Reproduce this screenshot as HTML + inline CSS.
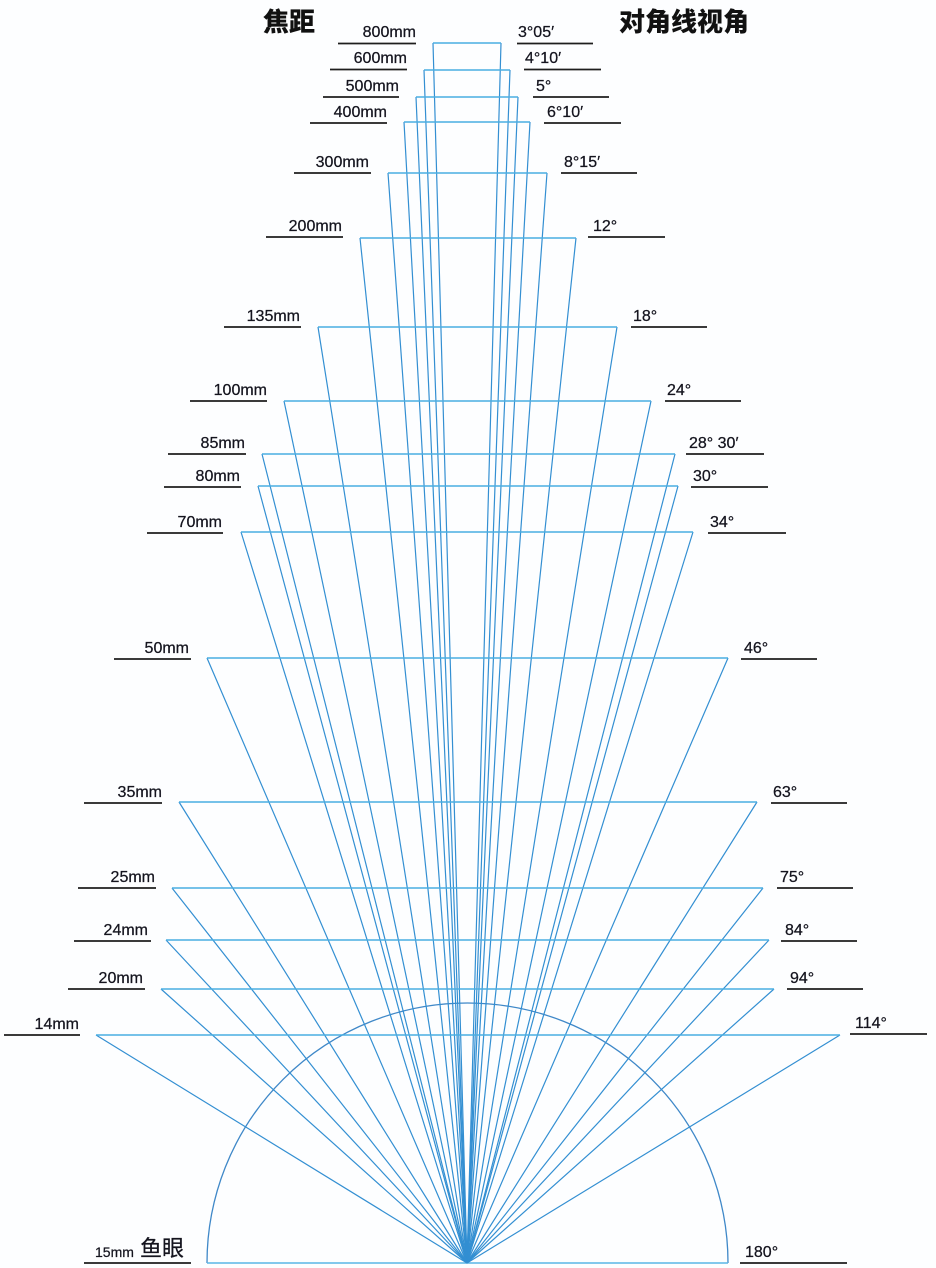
<!DOCTYPE html>
<html>
<head>
<meta charset="utf-8">
<style>
html,body{margin:0;padding:0;background:#ffffff;}
svg{display:block;}
.lbl{font-family:"Liberation Sans","Noto Sans CJK SC",sans-serif;font-size:16px;fill:#14141e;stroke:#14141e;stroke-width:0.25;}
.ttl{font-family:"Liberation Sans","Noto Sans CJK SC",sans-serif;font-size:26px;font-weight:900;fill:#111;}
.ul{stroke:#1e1e1e;stroke-width:1.7;}
.bar{stroke:#4aaee2;stroke-width:1.6;fill:none;}
.ray{stroke:#338fd2;stroke-width:1.2;fill:none;}
</style>
</head>
<body>
<svg width="936" height="1268" viewBox="0 0 936 1268" xmlns="http://www.w3.org/2000/svg">
<rect width="936" height="1268" fill="#fdfeff"/>

<!-- titles -->
<text class="ttl" x="263" y="31">焦距</text>
<text class="ttl" x="619" y="31">对角线视角</text>

<!-- fisheye arc + baseline -->
<path d="M207 1263 A260.5 260 0 0 1 728 1263" fill="none" stroke="#3f88c8" stroke-width="1.3"/>
<line x1="207" y1="1263" x2="728" y2="1263" stroke="#5ab6e6" stroke-width="1.6"/>

<!-- rays -->
<g class="ray">
<path d="M467 1263L433 43M467 1263L501 43"/>
<path d="M467 1263L424 70M467 1263L510 70"/>
<path d="M467 1263L416 97M467 1263L518 97"/>
<path d="M467 1263L404 122M467 1263L530 122"/>
<path d="M467 1263L388 173M467 1263L547 173"/>
<path d="M467 1263L360 238M467 1263L576 238"/>
<path d="M467 1263L318 327M467 1263L617 327"/>
<path d="M467 1263L284 401M467 1263L651 401"/>
<path d="M467 1263L262 454M467 1263L675 454"/>
<path d="M467 1263L258 486M467 1263L678 486"/>
<path d="M467 1263L241 532M467 1263L693 532"/>
<path d="M467 1263L207 658M467 1263L728 658"/>
<path d="M467 1263L179 802M467 1263L757 802"/>
<path d="M467 1263L172 888M467 1263L763 888"/>
<path d="M467 1263L166 940M467 1263L769 940"/>
<path d="M467 1263L161 989M467 1263L774 989"/>
<path d="M467 1263L96 1035M467 1263L840 1035"/>
</g>

<!-- bars -->
<g class="bar">
<line x1="433" y1="43" x2="501" y2="43"/>
<line x1="424" y1="70" x2="510" y2="70"/>
<line x1="416" y1="97" x2="518" y2="97"/>
<line x1="404" y1="122" x2="530" y2="122"/>
<line x1="388" y1="173" x2="547" y2="173"/>
<line x1="360" y1="238" x2="576" y2="238"/>
<line x1="318" y1="327" x2="617" y2="327"/>
<line x1="284" y1="401" x2="651" y2="401"/>
<line x1="262" y1="454" x2="675" y2="454"/>
<line x1="258" y1="486" x2="678" y2="486"/>
<line x1="241" y1="532" x2="693" y2="532"/>
<line x1="207" y1="658" x2="728" y2="658"/>
<line x1="179" y1="802" x2="757" y2="802"/>
<line x1="172" y1="888" x2="763" y2="888"/>
<line x1="166" y1="940" x2="769" y2="940"/>
<line x1="161" y1="989" x2="774" y2="989"/>
<line x1="96" y1="1035" x2="840" y2="1035"/>
</g>

<!-- left underlines -->
<g class="ul">
<line x1="338" y1="43.5" x2="416" y2="43.5"/>
<line x1="330" y1="69.5" x2="407" y2="69.5"/>
<line x1="323" y1="97" x2="399" y2="97"/>
<line x1="310" y1="123" x2="387" y2="123"/>
<line x1="294" y1="173" x2="371" y2="173"/>
<line x1="266" y1="237" x2="343" y2="237"/>
<line x1="224" y1="327" x2="301" y2="327"/>
<line x1="190" y1="401" x2="267" y2="401"/>
<line x1="168" y1="454" x2="246" y2="454"/>
<line x1="164" y1="487" x2="241" y2="487"/>
<line x1="147" y1="533" x2="223" y2="533"/>
<line x1="114" y1="659" x2="191" y2="659"/>
<line x1="84" y1="803" x2="162" y2="803"/>
<line x1="78" y1="888" x2="156" y2="888"/>
<line x1="74" y1="941" x2="151" y2="941"/>
<line x1="68" y1="989" x2="145" y2="989"/>
<line x1="4" y1="1035" x2="80" y2="1035"/>
<line x1="84" y1="1263" x2="191" y2="1263"/>
</g>

<!-- right underlines -->
<g class="ul">
<line x1="517" y1="43.5" x2="593" y2="43.5"/>
<line x1="524" y1="69.5" x2="601" y2="69.5"/>
<line x1="533" y1="97" x2="609" y2="97"/>
<line x1="544" y1="123" x2="621" y2="123"/>
<line x1="561" y1="173" x2="637" y2="173"/>
<line x1="588" y1="237" x2="665" y2="237"/>
<line x1="631" y1="327" x2="707" y2="327"/>
<line x1="665" y1="401" x2="741" y2="401"/>
<line x1="686" y1="454" x2="764" y2="454"/>
<line x1="691" y1="487" x2="768" y2="487"/>
<line x1="708" y1="533" x2="786" y2="533"/>
<line x1="741" y1="659" x2="817" y2="659"/>
<line x1="771" y1="803" x2="847" y2="803"/>
<line x1="777" y1="888" x2="853" y2="888"/>
<line x1="781" y1="941" x2="857" y2="941"/>
<line x1="787" y1="989" x2="863" y2="989"/>
<line x1="850" y1="1034" x2="927" y2="1034"/>
<line x1="740" y1="1263" x2="847" y2="1263"/>
</g>

<!-- left labels -->
<g class="lbl" text-anchor="end">
<text x="416" y="37">800mm</text>
<text x="407" y="63">600mm</text>
<text x="399" y="91">500mm</text>
<text x="387" y="117">400mm</text>
<text x="369" y="167">300mm</text>
<text x="342" y="231">200mm</text>
<text x="300" y="321">135mm</text>
<text x="267" y="395">100mm</text>
<text x="245" y="448">85mm</text>
<text x="240" y="481">80mm</text>
<text x="222" y="527">70mm</text>
<text x="189" y="653">50mm</text>
<text x="162" y="797">35mm</text>
<text x="155" y="882">25mm</text>
<text x="148" y="935">24mm</text>
<text x="143" y="983">20mm</text>
<text x="79" y="1029">14mm</text>
</g>
<text class="lbl" x="95" y="1257" style="font-size:14px">15mm</text>
<text class="lbl" x="140" y="1256" style="font-size:22px">鱼眼</text>

<!-- right labels -->
<g class="lbl">
<text x="518" y="37">3°05′</text>
<text x="525" y="63">4°10′</text>
<text x="536" y="91">5°</text>
<text x="547" y="117">6°10′</text>
<text x="564" y="167">8°15′</text>
<text x="593" y="231">12°</text>
<text x="633" y="321">18°</text>
<text x="667" y="395">24°</text>
<text x="689" y="448">28° 30′</text>
<text x="693" y="481">30°</text>
<text x="710" y="527">34°</text>
<text x="744" y="653">46°</text>
<text x="773" y="797">63°</text>
<text x="780" y="882">75°</text>
<text x="785" y="935">84°</text>
<text x="790" y="983">94°</text>
<text x="855" y="1028">114°</text>
<text x="745" y="1257">180°</text>
</g>
</svg>
</body>
</html>
